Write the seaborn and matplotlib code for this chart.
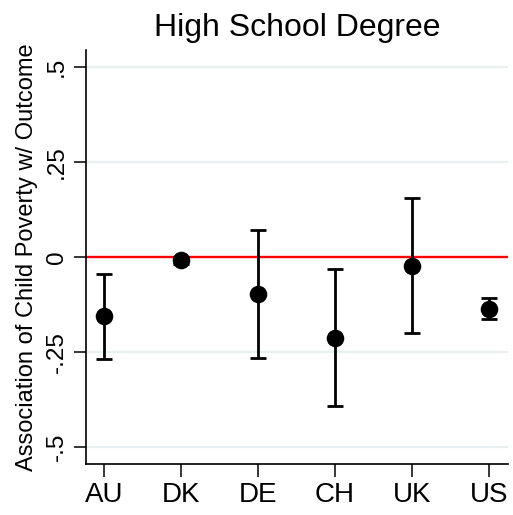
import matplotlib
matplotlib.use("Agg")
import matplotlib.pyplot as plt
import seaborn as sns
import numpy as np
import pandas as pd

countries = ["AU", "DK", "DE", "CH", "UK", "US"]
estimate = [-0.156, -0.009, -0.097, -0.213, -0.024, -0.136]
ci_low = [-0.268, -0.018, -0.266, -0.393, -0.201, -0.162]
ci_high = [-0.044, 0.000, 0.071, -0.031, 0.154, -0.109]
ytick_vals = [-0.5, -0.25, 0, 0.25, 0.5]
ytick_labels = ["-.5", "-.25", "0", ".25", ".5"]

df = pd.DataFrame({"country": countries, "est": estimate, "lo": ci_low, "hi": ci_high})

sns.set_theme(style="white")
plt.rcParams["font.family"] = ["Liberation Sans", "DejaVu Sans"]
plt.rcParams["text.color"] = "black"
plt.rcParams["axes.labelcolor"] = "black"
plt.rcParams["xtick.color"] = "black"
plt.rcParams["ytick.color"] = "black"

fig = plt.figure(figsize=(5.13, 5.15), dpi=100)
ax = fig.add_axes([0.1676, 0.099, 0.8224, 0.804])

# gridlines
for v in ytick_vals:
    if v != 0:
        ax.axhline(v, color="#e8f0f2", lw=1.6, zorder=0)
ax.axhline(0, color="#ff0000", lw=1.7, zorder=1)

xpos = np.arange(len(countries))
est = df["est"].to_numpy()
ax.errorbar(xpos, est, yerr=[est - df["lo"].to_numpy(), df["hi"].to_numpy() - est],
            fmt="none", ecolor="black", elinewidth=2.0, capsize=5.5, capthick=2.0, zorder=2)
sns.scatterplot(data=df, x="country", y="est", color="black", s=160, edgecolor="black",
                linewidth=0, ax=ax, zorder=3)

ax.set_xlim(-0.234, 5.25)
ax.set_ylim(-0.545, 0.545)
ax.set_yticks(ytick_vals)
ax.set_yticklabels(ytick_labels, rotation=90, va="center", fontsize=17.5)
ax.set_xticks(xpos)
ax.set_xticklabels(countries, fontsize=20)
ax.tick_params(axis="both", which="both", direction="out", length=9, width=1.1,
               color="black", labelcolor="black", left=True, bottom=True, pad=4)
ax.set_xlabel("")
ax.set_ylabel("Association of Child Poverty w/ Outcome", fontsize=17, labelpad=6, color="black")
ax.set_title("High School Degree", fontsize=23, pad=10, color="black")

for s in ["top", "right"]:
    ax.spines[s].set_visible(False)
for s in ["left", "bottom"]:
    ax.spines[s].set_color("black")
    ax.spines[s].set_linewidth(1.2)

fig.savefig("out.png", dpi=100, facecolor="white")
